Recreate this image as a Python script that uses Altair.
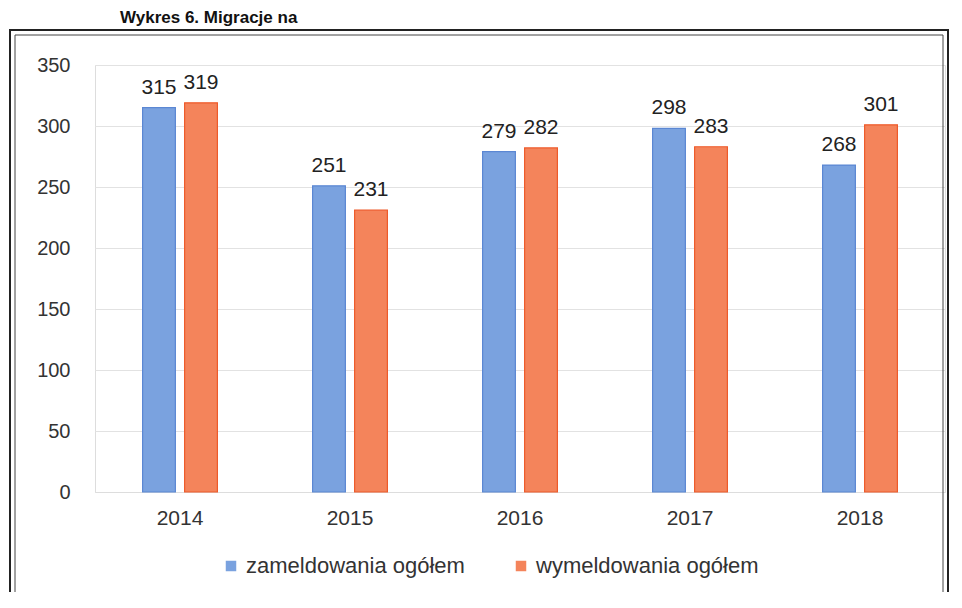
import altair as alt
import pandas as pd

years = ["2014", "2015", "2016", "2017", "2018"]
zameldowania = [315, 251, 279, 298, 268]
wymeldowania = [319, 231, 282, 283, 301]
series = ["zameldowania ogółem", "wymeldowania ogółem"]
colors = ["#7aa2df", "#f4845b"]
strokes = ["#5b87d3", "#ee5a2a"]
y_ticks = [0, 50, 100, 150, 200, 250, 300, 350]
title_text = "Wykres 6. Migracje na"

rows = []
for i, yr in enumerate(years):
    rows.append({"rok": yr, "seria": series[0], "wartosc": zameldowania[i]})
    rows.append({"rok": yr, "seria": series[1], "wartosc": wymeldowania[i]})
df = pd.DataFrame(rows)

FONT = "Liberation Sans"

x = alt.X(
    "rok:N", title=None,
    scale=alt.Scale(paddingInner=0.56, paddingOuter=0.28),
    axis=alt.Axis(labelAngle=0, labelFontSize=21, labelColor="#333333", labelPadding=15,
                  domainColor="#dddddd", ticks=False, labelFont=FONT, grid=False),
)
xo = alt.XOffset("seria:N", sort=series, scale=alt.Scale(paddingInner=0.22, paddingOuter=0))
y = alt.Y(
    "wartosc:Q", title=None,
    scale=alt.Scale(domain=[0, 350], nice=False),
    axis=alt.Axis(values=y_ticks, labelFontSize=20, labelColor="#333333", labelPadding=25,
                  domain=False, ticks=False, gridColor="#e2e2e2", labelFont=FONT),
)
color = alt.Color(
    "seria:N", sort=series,
    scale=alt.Scale(domain=series, range=colors),
    legend=alt.Legend(
        title=None, orient="none", direction="horizontal", legendX=125, legendY=490,
        symbolType="square", symbolSize=110, symbolStrokeWidth=0, labelFontSize=22,
        labelFont=FONT, labelColor="#333333", columnPadding=45, labelOffset=4, labelLimit=0,
    ),
)

bars = alt.Chart(df).mark_bar(strokeWidth=1.2).encode(
    x=x, xOffset=xo, y=y, color=color,
    stroke=alt.Stroke("seria:N", sort=series, scale=alt.Scale(domain=series, range=strokes), legend=None),
)

labels = alt.Chart(df).mark_text(
    baseline="bottom", dy=-10, fontSize=21, font=FONT, color="#222222"
).encode(x=x, xOffset=xo, y=y, text=alt.Text("wartosc:Q"))

frame_df = pd.DataFrame({"a": [0]})
frame_outer = alt.Chart(frame_df).mark_rect(fill=None, stroke="#222222", strokeWidth=2).encode(
    x=alt.value(-85), x2=alt.value(853), y=alt.value(-35), y2=alt.value(560)
)
frame_inner = alt.Chart(frame_df).mark_rect(fill=None, stroke="#444444", strokeWidth=1).encode(
    x=alt.value(-80), x2=alt.value(848), y=alt.value(-30), y2=alt.value(555)
)
title_mark = alt.Chart(frame_df).mark_text(
    align="left", baseline="bottom", fontSize=17, font=FONT, fontWeight="bold", color="#111111"
).encode(x=alt.value(25), y=alt.value(-38), text=alt.value(title_text))

chart = alt.layer(frame_outer, frame_inner, bars, labels, title_mark).properties(
    width=850, height=427,
    autosize=alt.AutoSizeParams(type="none"),
    padding={"left": 87, "top": 57, "right": 9, "bottom": 100},
).configure_view(stroke=None).configure(background="white")

chart.save("out.html", embed_options={"renderer": "svg", "actions": False})
